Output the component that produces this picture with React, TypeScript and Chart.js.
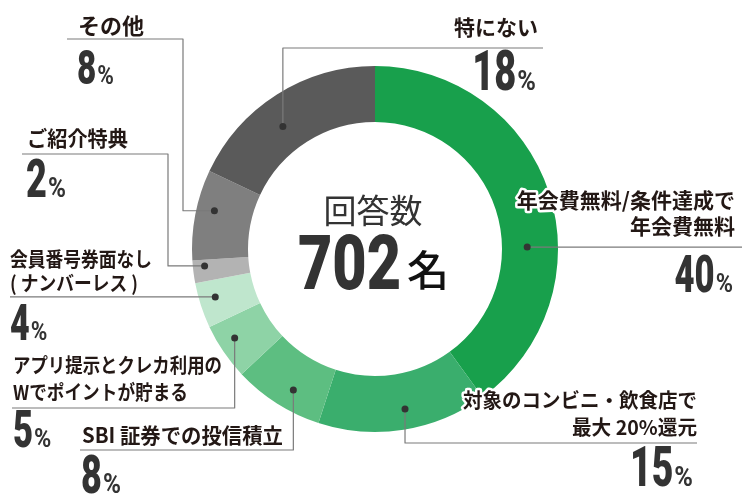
import { useEffect, useRef } from 'react'
import { Chart, DoughnutController, ArcElement } from 'chart.js'

Chart.register(DoughnutController, ArcElement)

// survey answers, clockwise from 12 o'clock
const CATEGORIES = [
  '年会費無料/条件達成で\n年会費無料',
  '対象のコンビニ・飲食店で\n最大 20%還元',
  'SBI 証券での投信積立',
  'アプリ提示とクレカ利用の\nWでポイントが貯まる',
  '会員番号券面なし\n( ナンバーレス )',
  'ご紹介特典',
  'その他',
  '特にない',
]
const SHARES = [40, 15, 8, 5, 4, 2, 8, 18]
const RESPONDENTS = 702
const CENTER_TITLE = '回答数'
const CENTER_UNIT = '名'

const COLORS = ['#18a04c', '#3aae6d', '#5dbe81', '#8ed3a6', '#bfe6cd', '#b3b3b3', '#7f7f7f', '#5a5a5a']

// callout layout: where the dot sits inside the slice (t along the arc, rf across the ring),
// the leader route, and where the label / percentage are drawn
type Step = ['h' | 'v', number]
const CALLOUTS: {
  t: number; rf: number; route: Step[]
  align: 'left' | 'right'; tx: number; lines: number[]; lineW: number[]; fs: number
  px: number; pb: number; ps: number; halo?: boolean
}[] = [
  { t: 0.62, rf: 0.45, route: [['h', 742]], align: 'right', tx: 735, lines: [200, 226], lineW: [231, 106], fs: 21, px: 733, pb: 292, ps: 51, halo: true },
  { t: 0.47, rf: 0.64, route: [['v', 443], ['h', 697]], align: 'right', tx: 697, lines: [400, 427], lineW: [234, 125], fs: 20, px: 693, pb: 486, ps: 55, halo: true },
  { t: 0.42, rf: 0.64, route: [['v', 450], ['h', 80]], align: 'left', tx: 82, lines: [435], lineW: [201], fs: 21, px: 81, pb: 493, ps: 53 },
  { t: 0.6, rf: 0.7, route: [['v', 408], ['h', 12]], align: 'left', tx: 13, lines: [365, 392], lineW: [209, 175], fs: 20, px: 13, pb: 447, ps: 51 },
  { t: 0.59, rf: 0.71, route: [['h', 10]], align: 'left', tx: 10, lines: [259, 283], lineW: [142, 128], fs: 20, px: 10, pb: 340, ps: 50 },
  { t: 0.71, rf: 0.79, route: [['h', 168], ['v', 154], ['h', 22]], align: 'left', tx: 27, lines: [138], lineW: [101], fs: 21, px: 26, pb: 197, ps: 53 },
  { t: 0.59, rf: 0.68, route: [['h', 183], ['v', 39], ['h', 67]], align: 'left', tx: 78, lines: [26], lineW: [67], fs: 22, px: 77, pb: 84, ps: 49 },
  { t: 0.43, rf: 0.47, route: [['v', 48], ['h', 543]], align: 'right', tx: 538, lines: [27], lineW: [86], fs: 21, px: 536, pb: 90, ps: 56 },
]

const JP = '"Noto Sans CJK JP", "Noto Sans", sans-serif'
const NUM = 'Roboto, "Noto Sans", sans-serif'
const TEXT = '#231815'
const NUMC = '#333333'

function drawPct(ctx: CanvasRenderingContext2D, value: number, x: number, base: number, align: string, size: number) {
  const num = String(value)
  const sx = 0.68
  const psx = 0.9
  const numFont = `900 ${size}px ${NUM}`
  const pctFont = `700 ${Math.round(size * 0.5)}px ${NUM}`
  ctx.font = numFont
  const nw = ctx.measureText(num).width * sx
  ctx.font = pctFont
  const pw = ctx.measureText('%').width * psx
  const total = nw + 1 + pw
  const left = align === 'right' ? x - total : x
  ctx.fillStyle = NUMC
  ctx.textAlign = 'left'
  ctx.textBaseline = 'alphabetic'
  ctx.save()
  ctx.translate(left, base)
  ctx.scale(sx, 1)
  ctx.font = numFont
  ctx.fillText(num, 0, 0)
  ctx.restore()
  ctx.save()
  ctx.translate(left + nw + 1, base)
  ctx.scale(psx, 1)
  ctx.font = pctFont
  ctx.fillText('%', 0, 0)
  ctx.restore()
}

const calloutPlugin = {
  id: 'callouts',
  afterDraw(chart: any) {
    const ctx: CanvasRenderingContext2D = chart.ctx
    const arcs = chart.getDatasetMeta(0).data
    ctx.save()

    CALLOUTS.forEach((c, i) => {
      const a = arcs[i].getProps(['x', 'y', 'startAngle', 'endAngle', 'innerRadius', 'outerRadius'], true)
      const ang = a.startAngle + c.t * (a.endAngle - a.startAngle)
      const r = a.innerRadius + c.rf * (a.outerRadius - a.innerRadius)
      const dx = a.x + r * Math.cos(ang)
      const dy = a.y + r * Math.sin(ang)

      // leader line
      ctx.strokeStyle = '#7a7a7a'
      ctx.lineWidth = 1.2
      ctx.beginPath()
      ctx.moveTo(dx, dy)
      let cx = dx
      let cy = dy
      c.route.forEach(([dir, v]) => {
        if (dir === 'h') cx = v
        else cy = v
        ctx.lineTo(cx, cy)
      })
      ctx.stroke()

      ctx.fillStyle = '#333'
      ctx.beginPath()
      ctx.arc(dx, dy, 3.5, 0, Math.PI * 2)
      ctx.fill()

      // label
      const lines = CATEGORIES[i].split('\n')
      ctx.font = `700 ${c.fs}px ${JP}`
      ctx.textAlign = c.align
      ctx.textBaseline = 'middle'
      lines.forEach((txt, j) => {
        if (c.halo) {
          ctx.strokeStyle = '#fff'
          ctx.lineWidth = 5
          ctx.lineJoin = 'round'
          ctx.strokeText(txt, c.tx, c.lines[j], c.lineW[j])
        }
        ctx.fillStyle = TEXT
        ctx.fillText(txt, c.tx, c.lines[j], c.lineW[j])
      })

      drawPct(ctx, SHARES[i], c.px, c.pb, c.align, c.ps)
    })

    // centre
    const cxm = arcs[0].x
    ctx.fillStyle = NUMC
    ctx.font = `400 33px ${JP}`
    ctx.textAlign = 'center'
    ctx.textBaseline = 'middle'
    ctx.fillText(CENTER_TITLE, cxm - 2, 210)

    const big = String(RESPONDENTS)
    const bsx = 0.78
    ctx.font = `900 76px ${NUM}`
    ctx.textAlign = 'left'
    ctx.textBaseline = 'alphabetic'
    ctx.save()
    ctx.translate(cxm - 77, 289)
    ctx.scale(bsx, 1)
    ctx.fillText(big, 0, 0)
    ctx.restore()

    ctx.fillStyle = '#111'
    ctx.font = `500 42px ${JP}`
    ctx.textBaseline = 'middle'
    ctx.fillText(CENTER_UNIT, cxm + 32, 270)

    ctx.restore()
  },
}

export default function App() {
  const canvasRef = useRef<HTMLCanvasElement>(null)
  const chartRef = useRef<Chart | null>(null)

  useEffect(() => {
    document.body.style.margin = '0'
    if (!canvasRef.current) return
    chartRef.current?.destroy()

    chartRef.current = new Chart(canvasRef.current, {
      type: 'doughnut',
      data: {
        labels: CATEGORIES,
        datasets: [{
          data: SHARES,
          backgroundColor: COLORS,
          borderWidth: 0,
          radius: 183,
          cutout: '69.4%',
        }],
      },
      options: {
        animation: false,
        responsive: true,
        maintainAspectRatio: false,
        layout: { padding: { top: 0, bottom: 3, left: 0, right: 0 } },
        plugins: { legend: { display: false }, tooltip: { enabled: false } },
        events: [],
      },
      plugins: [calloutPlugin],
    } as any)

    return () => chartRef.current?.destroy()
  }, [])

  return (
    <div style={{ width: 750, height: 501, position: 'relative', background: '#fff' }}>
      <canvas ref={canvasRef} />
    </div>
  )
}
